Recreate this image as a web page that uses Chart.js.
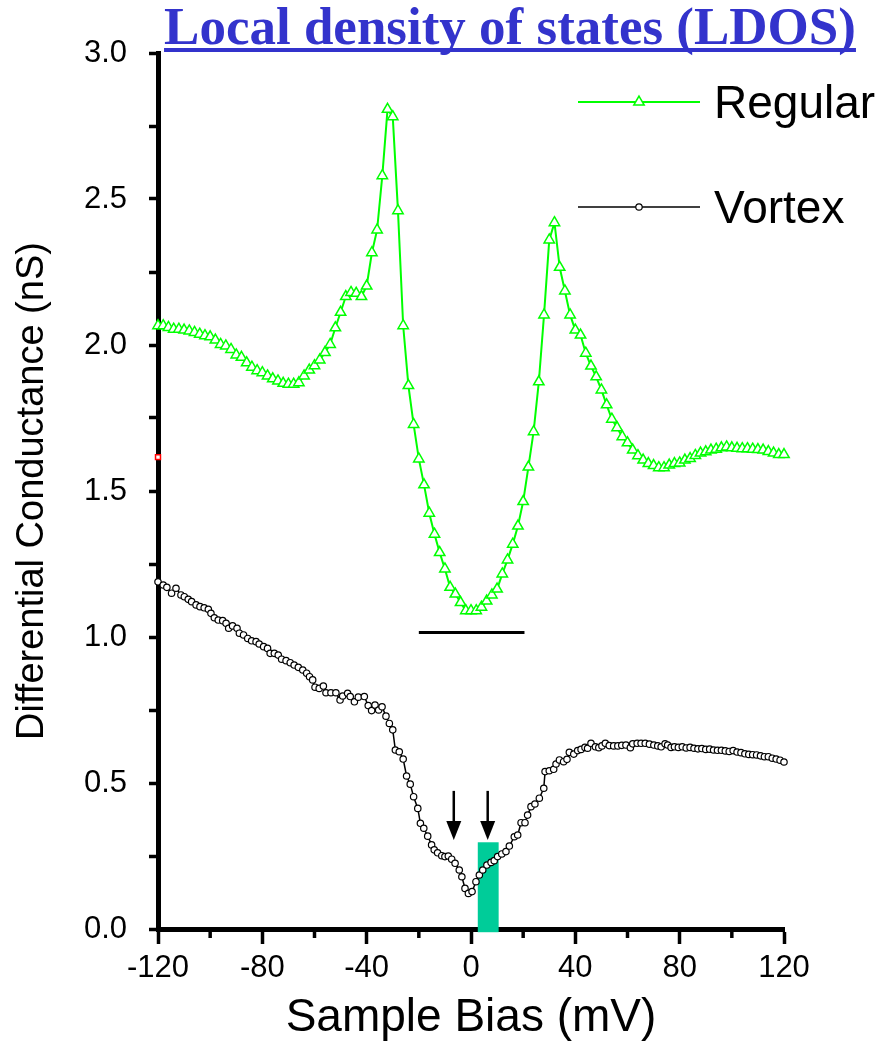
<!DOCTYPE html>
<html>
<head>
<meta charset="utf-8">
<script src="https://cdn.jsdelivr.net/npm/chart.js@4/dist/chart.umd.min.js"></script>
<style>
  html, body { margin: 0; padding: 0; background: #fff; }
  #wrap { position: relative; width: 884px; height: 1041px; }
</style>
</head>
<body>
<div id="wrap"><canvas id="ldosChart" width="884" height="1041"></canvas></div>
<script>
// Regular (green) spectrum, 2 mV steps
const regularBias = [
  -120, -118, -116, -114, -112, -110, -108, -106, -104, -102,
  -100, -98, -96, -94, -92, -90, -88, -86, -84, -82,
  -80, -78, -76, -74, -72, -70, -68, -66, -64, -62,
  -60, -58, -56, -54, -52, -50, -48, -46, -44, -42,
  -40, -38, -36, -34, -32, -30, -28, -26, -24, -22,
  -20, -18, -16, -14, -12, -10, -8, -6, -4, -2,
  0, 2, 4, 6, 8, 10, 12, 14, 16, 18,
  20, 22, 24, 26, 28, 30, 32, 34, 36, 38,
  40, 42, 44, 46, 48, 50, 52, 54, 56, 58,
  60, 62, 64, 66, 68, 70, 72, 74, 76, 78,
  80, 82, 84, 86, 88, 90, 92, 94, 96, 98,
  100, 102, 104, 106, 108, 110, 112, 114, 116, 118, 120
];
const regularG = [
  2.066, 2.066, 2.060, 2.054, 2.054, 2.051, 2.048, 2.043, 2.037, 2.032,
  2.028, 2.017, 2.002, 1.997, 1.985, 1.966, 1.958, 1.939, 1.924, 1.912,
  1.905, 1.894, 1.884, 1.877, 1.869, 1.866, 1.866, 1.871, 1.894, 1.914,
  1.929, 1.949, 1.974, 2.002, 2.059, 2.112, 2.166, 2.180, 2.177, 2.166,
  2.202, 2.316, 2.394, 2.580, 2.807, 2.782, 2.460, 2.066, 1.861, 1.728,
  1.610, 1.521, 1.424, 1.352, 1.289, 1.233, 1.170, 1.147, 1.118, 1.090,
  1.090, 1.090, 1.102, 1.123, 1.144, 1.164, 1.216, 1.264, 1.318, 1.380,
  1.464, 1.582, 1.703, 1.874, 2.103, 2.360, 2.419, 2.266, 2.185, 2.103,
  2.051, 2.034, 1.972, 1.928, 1.891, 1.846, 1.795, 1.746, 1.717, 1.686,
  1.665, 1.640, 1.621, 1.606, 1.594, 1.587, 1.580, 1.580, 1.589, 1.594,
  1.596, 1.606, 1.611, 1.622, 1.630, 1.634, 1.640, 1.643, 1.648, 1.651,
  1.648, 1.646, 1.645, 1.645, 1.643, 1.642, 1.640, 1.635, 1.630, 1.625, 1.625
];

// Vortex (black) spectrum
const vortexBias = [
  -120.0, -118.0, -116.6, -114.8, -113.1, -111.2, -109.9, -108.4, -107.1, -105.4,
  -103.9, -102.3, -100.7, -99.7, -98.4, -96.9, -95.2, -93.9, -92.9, -91.4,
  -89.7, -88.8, -87.2, -85.6, -84.1, -82.4, -81.2, -79.5, -78.0, -77.0,
  -75.4, -73.9, -72.6, -70.9, -69.3, -67.8, -66.2, -64.5, -63.0, -61.9,
  -60.7, -59.8, -58.2, -56.6, -55.6, -53.7, -51.8, -50.2, -49.2, -47.3,
  -46.3, -44.7, -43.2, -40.9, -39.4, -38.1, -36.8, -35.4, -34.1, -32.6,
  -31.3, -30.0, -29.0, -27.5, -26.0, -24.7, -23.3, -22.0, -20.4, -19.4,
  -18.1, -16.6, -15.1, -14.1, -12.8, -11.2, -10.0, -8.7, -7.4, -6.1,
  -4.5, -3.5, -2.3, -1.0, 0.4, 1.9, 3.2, 4.5, 6.1, 7.7,
  8.9, 10.2, 11.8, 13.4, 14.7, 16.6, 17.9, 19.2, 20.7, 21.7,
  23.0, 24.5, 26.2, 27.9, 28.4, 30.0, 31.7, 32.6, 33.9, 35.5,
  36.8, 37.7, 39.4, 40.9, 42.2, 43.7, 44.7, 46.0, 47.7, 49.0,
  50.2, 51.5, 53.0, 54.7, 56.3, 57.8, 59.4, 61.1, 62.0, 63.7,
  65.2, 66.8, 68.4, 70.1, 71.6, 72.9, 74.4, 75.4, 76.7, 78.0,
  79.5, 81.0, 82.5, 84.0, 85.5, 87.0, 88.5, 90.0, 91.5, 93.0,
  94.5, 96.0, 97.5, 99.0, 100.5, 102.0, 103.5, 105.0, 106.5, 108.0,
  109.5, 111.0, 112.5, 114.0, 115.5, 117.0, 118.5, 120.0
];
const vortexG = [
  1.189, 1.178, 1.170, 1.150, 1.167, 1.144, 1.138, 1.129, 1.121, 1.110,
  1.104, 1.100, 1.095, 1.081, 1.066, 1.058, 1.056, 1.047, 1.030, 1.038,
  1.030, 1.013, 1.007, 0.995, 0.987, 0.984, 0.976, 0.967, 0.961, 0.944,
  0.944, 0.938, 0.924, 0.919, 0.912, 0.904, 0.896, 0.887, 0.876, 0.864,
  0.853, 0.828, 0.824, 0.832, 0.809, 0.809, 0.809, 0.784, 0.798, 0.807,
  0.796, 0.778, 0.794, 0.796, 0.765, 0.748, 0.767, 0.750, 0.761, 0.729,
  0.704, 0.682, 0.613, 0.607, 0.582, 0.524, 0.496, 0.453, 0.413, 0.362,
  0.345, 0.318, 0.288, 0.271, 0.261, 0.251, 0.248, 0.250, 0.239, 0.225,
  0.202, 0.179, 0.139, 0.122, 0.128, 0.162, 0.185, 0.202, 0.219, 0.228,
  0.234, 0.248, 0.257, 0.265, 0.284, 0.316, 0.322, 0.364, 0.364, 0.390,
  0.419, 0.428, 0.448, 0.482, 0.539, 0.542, 0.547, 0.565, 0.579, 0.573,
  0.581, 0.605, 0.599, 0.611, 0.615, 0.622, 0.619, 0.636, 0.624, 0.621,
  0.627, 0.636, 0.628, 0.627, 0.627, 0.629, 0.630, 0.621, 0.634, 0.636,
  0.636, 0.636, 0.633, 0.630, 0.627, 0.624, 0.634, 0.630, 0.622, 0.624,
  0.622, 0.624, 0.620, 0.622, 0.619, 0.617, 0.618, 0.615, 0.616, 0.613,
  0.612, 0.612, 0.610, 0.608, 0.611, 0.606, 0.604, 0.600, 0.598, 0.597,
  0.596, 0.593, 0.590, 0.590, 0.585, 0.582, 0.578, 0.572
];

// annotations
const gapLineBias = [-20, 20.5];
const gapLineG = [1.015, 1.015];
const arrowBias = [-6.6, 6.4];
const arrowFromG = 0.473;
const arrowToG = 0.305;
const bandBias = [2.6, 10.6];
const bandG = [-0.011, 0.297];
const redMarkBias = [-120];
const redMarkG = [1.616];

const xMajorTicks = [-120, -80, -40, 0, 40, 80, 120];
const xMinorTicks = [-100, -60, -20, 20, 60, 100];

const FONT = 'Liberation Sans, Arial, sans-serif';

function pts(xs, ys) {
  return xs.map((x, i) => ({ x, y: ys[i] }));
}

const overlayPlugin = {
  id: 'overlays',
  beforeDatasetsDraw(chart) {
    const { ctx, scales: { x, y } } = chart;
    // teal band
    ctx.save();
    ctx.fillStyle = '#00cc99';
    const x0 = x.getPixelForValue(bandBias[0]);
    const x1 = x.getPixelForValue(bandBias[1]);
    const y0 = y.getPixelForValue(bandG[1]);
    const y1 = y.getPixelForValue(bandG[0]);
    ctx.fillRect(x0, y0, x1 - x0, y1 - y0);
    ctx.restore();
  },
  afterDatasetsDraw(chart) {
    const { ctx, scales: { x, y } } = chart;
    ctx.save();
    ctx.fillStyle = '#000';
    ctx.strokeStyle = '#000';
    arrowBias.forEach(b => {
      const px = x.getPixelForValue(b);
      const top = y.getPixelForValue(arrowFromG);
      const tip = y.getPixelForValue(arrowToG);
      const headH = 19, headW = 7.5;
      ctx.lineWidth = 2.5;
      ctx.beginPath();
      ctx.moveTo(px, top);
      ctx.lineTo(px, tip - headH + 1);
      ctx.stroke();
      ctx.beginPath();
      ctx.moveTo(px - headW, tip - headH);
      ctx.lineTo(px + headW, tip - headH);
      ctx.lineTo(px, tip);
      ctx.closePath();
      ctx.fill();
    });
    // minor x ticks
    ctx.lineWidth = 3.5;
    const base = y.getPixelForValue(0);
    xMinorTicks.forEach(v => {
      const px = x.getPixelForValue(v);
      ctx.beginPath();
      ctx.moveTo(px, base);
      ctx.lineTo(px, base + 9);
      ctx.stroke();
    });
    ctx.restore();
  },
  afterDraw(chart) {
    const { ctx, chartArea } = chart;
    ctx.save();
    // title
    const title = 'Local density of states (LDOS)';
    ctx.font = 'bold 53px "Liberation Serif", "Times New Roman", serif';
    ctx.fillStyle = '#3333cc';
    ctx.textAlign = 'center';
    ctx.textBaseline = 'alphabetic';
    const cx = 510;
    ctx.fillText(title, cx, 44);
    const w = ctx.measureText(title).width;
    ctx.fillRect(cx - w / 2, 48, w, 4);

    // legend
    const items = [
      { label: 'Regular', ds: chart.data.datasets[0], y: 102 },
      { label: 'Vortex', ds: chart.data.datasets[1], y: 207 }
    ];
    const lx0 = chartArea.right - 206, lx1 = chartArea.right - 84;
    items.forEach(it => {
      ctx.strokeStyle = it.ds.borderColor;
      ctx.lineWidth = it.ds.borderWidth;
      ctx.beginPath();
      ctx.moveTo(lx0, it.y);
      ctx.lineTo(lx1, it.y);
      ctx.stroke();
      ctx.fillStyle = it.ds.pointBackgroundColor;
      ctx.strokeStyle = it.ds.pointBorderColor;
      ctx.lineWidth = it.ds.pointBorderWidth;
      Chart.helpers.drawPoint(ctx, {
        pointStyle: it.ds.pointStyle,
        radius: it.ds.pointRadius,
        rotation: 0,
        borderWidth: it.ds.pointBorderWidth
      }, (lx0 + lx1) / 2, it.y);
      ctx.fillStyle = '#000';
      ctx.font = '46px ' + FONT;
      ctx.textAlign = 'left';
      ctx.textBaseline = 'alphabetic';
      ctx.fillText(it.label, lx1 + 14, it.y + 16);
    });
    ctx.restore();
  }
};

new Chart(document.getElementById('ldosChart'), {
  type: 'scatter',
  data: {
    datasets: [
      {
        label: 'Regular',
        data: pts(regularBias, regularG),
        showLine: true,
        borderColor: '#00ff00',
        borderWidth: 2,
        pointStyle: 'triangle',
        pointRadius: 6,
        pointBorderColor: '#00ff00',
        pointBackgroundColor: '#ffffff',
        pointBorderWidth: 1.5,
        tension: 0,
        clip: false
      },
      {
        label: 'Vortex',
        data: pts(vortexBias, vortexG),
        showLine: true,
        borderColor: '#000000',
        borderWidth: 1.5,
        pointStyle: 'circle',
        pointRadius: 3.2,
        pointBorderColor: '#000000',
        pointBackgroundColor: '#ffffff',
        pointBorderWidth: 1.2,
        tension: 0,
        clip: false
      },
      {
        label: 'gap',
        data: pts(gapLineBias, gapLineG),
        showLine: true,
        borderColor: '#000000',
        borderWidth: 3,
        pointRadius: 0
      },
      {
        label: 'mark',
        data: pts(redMarkBias, redMarkG),
        pointStyle: 'rect',
        pointRadius: 3.5,
        pointBorderColor: '#ff0000',
        pointBackgroundColor: '#ffffff',
        pointBorderWidth: 1.5,
        clip: false
      }
    ]
  },
  options: {
    responsive: false,
    animation: false,
    layout: { padding: { top: 53, right: 100, bottom: 0, left: 0 } },
    plugins: {
      legend: { display: false },
      tooltip: { enabled: false }
    },
    scales: {
      x: {
        type: 'linear',
        min: -120,
        max: 120,
        border: { display: true, color: '#000', width: 5 },
        grid: {
          drawOnChartArea: false,
          tickLength: 15,
          tickWidth: 3.5,
          tickColor: '#000'
        },
        afterBuildTicks: s => { s.ticks = xMajorTicks.map(v => ({ value: v })); },
        ticks: {
          autoSkip: false,
          maxRotation: 0,
          padding: 6,
          color: '#000',
          font: { family: FONT, size: 31 }
        },
        title: {
          display: true,
          text: 'Sample Bias (mV)',
          color: '#000',
          font: { family: FONT, size: 46, lineHeight: 1.0 },
          padding: { top: 0, bottom: 0 }
        },
        afterFit: s => { s.height = 112; }
      },
      y: {
        type: 'linear',
        min: 0,
        max: 3,
        border: { display: true, color: '#000', width: 5 },
        grid: {
          drawOnChartArea: false,
          tickLength: 9,
          tickWidth: 3.5,
          tickColor: '#000'
        },
        ticks: {
          stepSize: 0.25,
          autoSkip: false,
          padding: 22,
          color: '#000',
          font: { family: FONT, size: 31 },
          callback: v => (Math.abs(v * 2 - Math.round(v * 2)) < 1e-6 ? v.toFixed(1) : '')
        },
        title: {
          display: true,
          text: 'Differential Conductance (nS)',
          color: '#000',
          font: { family: FONT, size: 38, lineHeight: 1.0 },
          padding: { top: 14, bottom: 0 }
        },
        afterFit: s => { s.width = 158; }
      }
    }
  },
  plugins: [overlayPlugin]
});
</script>
</body>
</html>
